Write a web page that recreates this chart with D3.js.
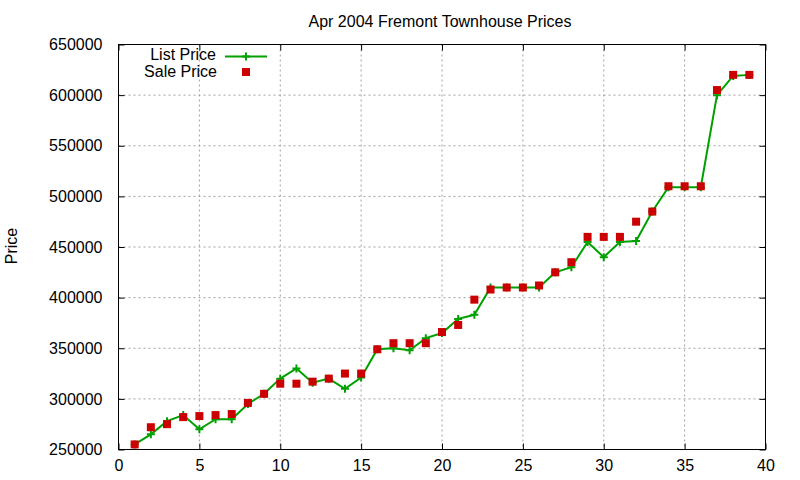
<!DOCTYPE html>
<html>
<head>
<meta charset="utf-8">
<script src="https://cdn.jsdelivr.net/npm/d3@7"></script>
<style>
  body { margin: 0; background: #fff; }
  svg { display: block; font-family: "Liberation Sans", Arial, sans-serif; }
  .axis path { display: none; }
  .axis line { stroke: #000; }
  .axis text { font-size: 16px; fill: #000; }
</style>
</head>
<body>
<div id="chart"></div>
<script>
// house index, 1..39
const houseIdx = d3.range(1, 40);
const listPrice = [
  255000, 265000, 278000, 284000, 270000, 280000, 280000, 295000, 305000, 320000,
  330000, 316000, 320000, 310000, 321000, 349000, 350000, 348000, 360000, 365000,
  379000, 383000, 410000, 410000, 410000, 410000, 425000, 430000, 455000, 440000,
  455000, 456000, 485000, 509000, 509000, 509000, 600000, 619000, 620000
];
const salePrice = [
  255000, 272000, 275000, 282000, 283000, 284000, 285000, 296000, 305000, 315000,
  315000, 317000, 320000, 325000, 325000, 349000, 355000, 355000, 355000, 366000,
  373000, 398000, 408000, 410000, 410000, 412000, 425000, 435000, 460000, 460000,
  460000, 475000, 485000, 510000, 510000, 510000, 605000, 620000, 620000
];
const xTicks = [0, 5, 10, 15, 20, 25, 30, 35, 40];
const yTicks = [250000, 300000, 350000, 400000, 450000, 500000, 550000, 600000, 650000];

const W = 800, H = 480;
const margin = {top: 44.5, right: 34.5, bottom: 30.5, left: 118.5};

const svg = d3.select('#chart').append('svg')
  .attr('width', W)
  .attr('height', H);

const x = d3.scaleLinear().domain([0, 40]).range([margin.left, W - margin.right]);
const y = d3.scaleLinear().domain([250000, 650000]).range([H - margin.bottom, margin.top]);

// dotted grid
const grid = svg.append('g')
  .attr('stroke', '#a0a0a0')
  .attr('stroke-width', 1)
  .attr('stroke-dasharray', '2,3');
grid.selectAll('.gx')
  .data(xTicks.slice(1, -1))
  .enter().append('line')
  .attr('x1', d => x(d)).attr('x2', d => x(d))
  .attr('y1', y(650000)).attr('y2', y(250000));
grid.selectAll('.gy')
  .data(yTicks.slice(1, -1))
  .enter().append('line')
  .attr('y1', d => y(d)).attr('y2', d => y(d))
  .attr('x1', x(0)).attr('x2', x(40));

// axes, ticks pointing inward like gnuplot
svg.append('g')
  .attr('class', 'axis')
  .attr('transform', 'translate(0,' + y(250000) + ')')
  .call(d3.axisBottom(x).tickValues(xTicks).tickSizeInner(-6).tickSizeOuter(0).tickPadding(10));
svg.append('g')
  .attr('class', 'axis')
  .attr('transform', 'translate(0,' + y(650000) + ')')
  .call(d3.axisTop(x).tickValues(xTicks).tickSizeInner(-6).tickSizeOuter(0).tickFormat(''));
svg.append('g')
  .attr('class', 'axis')
  .attr('transform', 'translate(' + x(0) + ',0)')
  .call(d3.axisLeft(y).tickValues(yTicks).tickSizeInner(-6).tickSizeOuter(0).tickPadding(16).tickFormat(d3.format('d')));
svg.append('g')
  .attr('class', 'axis')
  .attr('transform', 'translate(' + x(40) + ',0)')
  .call(d3.axisRight(y).tickValues(yTicks).tickSizeInner(-6).tickSizeOuter(0).tickFormat(''));

svg.selectAll('.axis text').attr('font-family', '"Liberation Sans", Arial, sans-serif');

// border
svg.append('rect')
  .attr('x', x(0)).attr('y', y(650000))
  .attr('width', x(40) - x(0))
  .attr('height', y(250000) - y(650000))
  .attr('fill', 'none')
  .attr('stroke', '#000');

// list price line
const green = '#00a000', red = '#cc0000';
const listData = houseIdx.map((d, i) => ({x: d, y: listPrice[i]}));
svg.append('path')
  .datum(listData)
  .attr('fill', 'none')
  .attr('stroke', green)
  .attr('stroke-width', 2)
  .attr('d', d3.line().x(d => x(d.x)).y(d => y(d.y)));

svg.selectAll('.plus')
  .data(listData)
  .enter().append('path')
  .attr('stroke', green)
  .attr('stroke-width', 2)
  .attr('d', 'M-4,0H4M0,-4V4')
  .attr('transform', d => 'translate(' + x(d.x) + ',' + y(d.y) + ')');

// sale price squares
const saleData = houseIdx.map((d, i) => ({x: d, y: salePrice[i]}));
svg.selectAll('.sq')
  .data(saleData)
  .enter().append('rect')
  .attr('fill', red)
  .attr('x', d => x(d.x) - 4)
  .attr('y', d => y(d.y) - 4)
  .attr('width', 8)
  .attr('height', 8);

// title
svg.append('text')
  .attr('x', 440).attr('y', 27)
  .attr('text-anchor', 'middle')
  .style('font-size', '16px')
  .text('Apr 2004 Fremont Townhouse Prices');

// y label
svg.append('text')
  .attr('transform', 'translate(17,246) rotate(-90)')
  .attr('text-anchor', 'middle')
  .style('font-size', '16px')
  .text('Price');

// legend
const legend = svg.append('g');
legend.append('text')
  .attr('x', 216).attr('y', 60)
  .attr('text-anchor', 'end')
  .style('font-size', '16px')
  .text('List Price');
legend.append('line')
  .attr('x1', 225).attr('x2', 267)
  .attr('y1', 56.5).attr('y2', 56.5)
  .attr('stroke', green).attr('stroke-width', 2);
legend.append('path')
  .attr('stroke', green).attr('stroke-width', 2)
  .attr('d', 'M-4,0H4M0,-4V4')
  .attr('transform', 'translate(246,56.5)');
legend.append('text')
  .attr('x', 217).attr('y', 76.5)
  .attr('text-anchor', 'end')
  .style('font-size', '16px')
  .text('Sale Price');
legend.append('rect')
  .attr('fill', red)
  .attr('x', 242).attr('y', 68)
  .attr('width', 8).attr('height', 8);
</script>
</body>
</html>
